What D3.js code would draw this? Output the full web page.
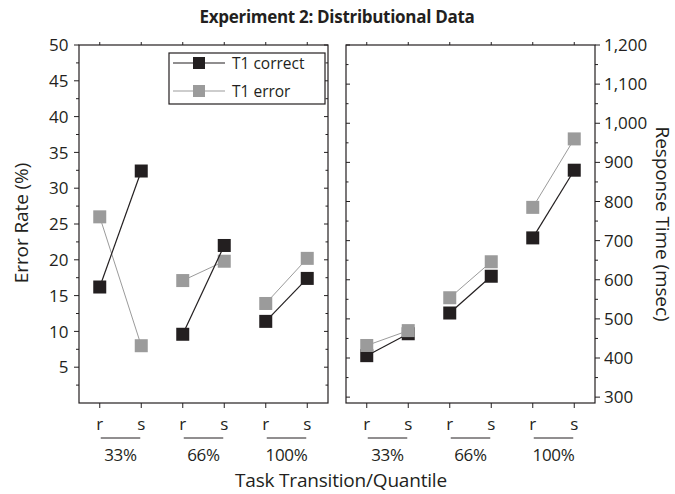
<!DOCTYPE html>
<html><head><meta charset="utf-8">
<script src="https://cdn.jsdelivr.net/npm/d3@7"></script>
<style>
body{margin:0;background:#fff;}
text{font-family:"Open Sans","Noto Sans",sans-serif;fill:#231f20;}
</style></head>
<body><svg id="c" width="675" height="494"></svg>
<script>
const categories = ["r33","s33","r66","s66","r100","s100"];
const transLabels = ["r","s","r","s","r","s"];
const quantiles = ["33%","66%","100%"];
const seriesNames = ["T1 correct","T1 error"];
const errCorrect = [16.2, 32.4, 9.6, 22.0, 11.4, 17.4];
const errError   = [26.0, 8.0, 17.1, 19.8, 13.9, 20.2];
const rtCorrect  = [406, 462, 515, 609, 707, 880];
const rtError    = [432, 470, 554, 646, 785, 960];
const errTicks = [5,10,15,20,25,30,35,40,45,50];
const rtTicks = [300,400,500,600,700,800,900,1000,1100,1200];

const svg = d3.select("#c");
const plotTop = 45, plotBottom = 403;
const dark = "#231f20", gray = "#9b9b9b";

const yErr = d3.scaleLinear().domain([0,50]).range([plotBottom, plotTop]);
const yRt = d3.scaleLinear().domain([285,1200]).range([plotBottom, plotTop]);
const xL = d3.scalePoint().domain(categories).range([79,328]).padding(0.5);
const xR = d3.scalePoint().domain(categories).range([346,595]).padding(0.5);

function panel(x, y, ticks, minorStep, side, fmt, sets){
  const [x0,x1] = x.range();
  const g = svg.append("g");
  g.append("rect").attr("x",x0).attr("y",plotTop).attr("width",x1-x0).attr("height",plotBottom-plotTop)
    .attr("fill","none").attr("stroke",dark).attr("stroke-width",1.2);
  const [d0,d1] = y.domain();
  const minors = d3.range(Math.ceil(d0/minorStep)*minorStep, d1+0.001, minorStep).filter(v=>y(v)<plotBottom-1);
  const axisX = side==="left"?x0:x1, otherX = side==="left"?x1:x0;
  const dir = side==="left"?-1:1;
  g.selectAll(null).data(minors).join("line")
    .attr("x1",axisX).attr("x2",d=>axisX + dir*(ticks.includes(d)?5:3))
    .attr("y1",d=>y(d)).attr("y2",d=>y(d)).attr("stroke",dark).attr("stroke-width",1);
  g.selectAll(null).data(minors).join("line")
    .attr("x1",otherX).attr("x2",d=>otherX + dir*(ticks.includes(d)?4:2.5))
    .attr("y1",d=>y(d)).attr("y2",d=>y(d)).attr("stroke",dark).attr("stroke-width",1);
  g.selectAll(null).data(ticks).join("text")
    .attr("x",axisX + dir*(side==="left"?10.5:9)).attr("y",d=>y(d)).attr("dy","0.36em")
    .attr("text-anchor",side==="left"?"end":"start")
    .attr("font-size",17).text(fmt);
  g.selectAll(null).data(categories).join("line")
    .attr("x1",d=>x(d)).attr("x2",d=>x(d)).attr("y1",plotBottom).attr("y2",plotBottom+5)
    .attr("stroke",dark).attr("stroke-width",1);
  g.selectAll(null).data(categories).join("line")
    .attr("x1",d=>x(d)).attr("x2",d=>x(d)).attr("y1",plotTop).attr("y2",plotTop-3)
    .attr("stroke",dark).attr("stroke-width",1);
  g.selectAll(null).data(categories).join("text")
    .attr("x",d=>x(d)).attr("y",430).attr("text-anchor","middle")
    .attr("font-size",17).text((d,i)=>transLabels[i]);
  quantiles.forEach((q,i)=>{
    const a = x(categories[2*i]), b = x(categories[2*i+1]);
    g.append("line").attr("x1",a+1).attr("x2",b-1).attr("y1",438).attr("y2",438)
      .attr("stroke",dark).attr("stroke-width",1);
    g.append("text").attr("x",(a+b)/2).attr("y",461).attr("text-anchor","middle")
      .attr("font-size",17).attr("letter-spacing","-0.3").text(q);
  });
  sets.forEach(s=>{
    for(let i=0;i<3;i++){
      const seg = s.values.slice(2*i,2*i+2);
      g.append("path").attr("d", d3.line().x((d,j)=>x(categories[2*i+j])).y(d=>y(d))(seg))
        .attr("fill","none").attr("stroke",s.color).attr("stroke-width",s.w);
    }
    g.selectAll(null).data(s.values).join("rect")
      .attr("x",(d,i)=>x(categories[i])-6.5).attr("y",d=>y(d)-6.5)
      .attr("width",13).attr("height",13).attr("fill",s.color);
  });
  return g;
}

panel(xL, yErr, errTicks, 2.5, "left", d=>d, [
  {values: errError, color: gray, w: 1},
  {values: errCorrect, color: dark, w: 1.2}
]);
panel(xR, yRt, rtTicks, 50, "right", d3.format(","), [
  {values: rtCorrect, color: dark, w: 1.2},
  {values: rtError, color: gray, w: 1}
]);

const lg = svg.append("g");
lg.append("rect").attr("x",169).attr("y",53).attr("width",156).attr("height",51)
  .attr("fill","#fff").attr("stroke",dark).attr("stroke-width",1.2);
[[dark,63,1.2],[gray,91,1]].forEach((c,i)=>{
  lg.append("line").attr("x1",173).attr("x2",225).attr("y1",c[1]).attr("y2",c[1])
    .attr("stroke",c[0]).attr("stroke-width",c[2]);
  lg.append("rect").attr("x",193).attr("y",c[1]-6).attr("width",12).attr("height",12).attr("fill",c[0]);
  lg.append("text").attr("x",232).attr("y",c[1]).attr("dy","0.36em")
    .attr("font-size",15.5).text(seriesNames[i]);
});

svg.append("text").attr("x",337).attr("y",23).attr("text-anchor","middle")
  .attr("font-size",17).attr("font-weight","bold").attr("letter-spacing","-0.3")
  .text("Experiment 2: Distributional Data");
svg.append("text").attr("x",341).attr("y",487).attr("text-anchor","middle")
  .attr("font-size",19).attr("letter-spacing","-0.2").text("Task Transition/Quantile");
svg.append("text").attr("transform","translate(28,223) rotate(-90)").attr("text-anchor","middle")
  .attr("font-size",19).attr("letter-spacing","-0.1").text("Error Rate (%)");
svg.append("text").attr("transform","translate(656,224) rotate(90)").attr("text-anchor","middle")
  .attr("font-size",19).attr("letter-spacing","-0.1").text("Response Time (msec)");
</script></body></html>
